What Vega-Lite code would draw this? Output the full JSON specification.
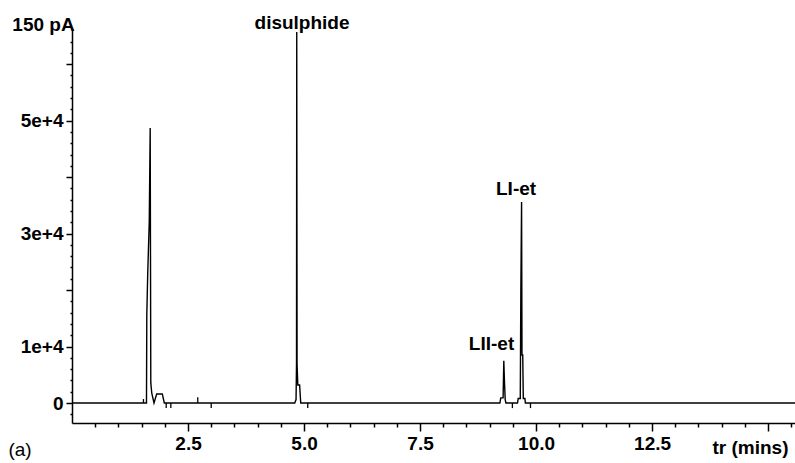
{
  "$schema": "https://vega.github.io/schema/vega-lite/v6.json",
  "autosize": {"type": "none"},
  "width": 723,
  "height": 395,
  "padding": {"left": 72, "top": 28, "right": 0, "bottom": 40},
  "background": "white",
  "config": {
    "view": {"stroke": null},
    "axis": {"grid": false, "domainColor": "black", "domainWidth": 1.5, "tickColor": "black", "tickWidth": 1.5,
             "labelFont": "Liberation Sans", "labelFontWeight": "bold", "labelFontSize": 19, "labelColor": "black",
             "titleFont": "Liberation Sans", "titleFontWeight": "bold", "titleFontSize": 19, "titleColor": "black",
             "labelOverlap": false, "labelFlush": false}
  },
  "datasets": {
    "trace": [
      {"t": 0, "v": 0}, {"t": 1.605, "v": 0}, {"t": 1.612, "v": 15600}, {"t": 1.632, "v": 23000},
      {"t": 1.665, "v": 32200}, {"t": 1.685, "v": 48700}, {"t": 1.698, "v": 3600}, {"t": 1.718, "v": 1800},
      {"t": 1.767, "v": 0}, {"t": 1.825, "v": 1600}, {"t": 1.946, "v": 1600}, {"t": 1.989, "v": 0},
      {"t": 4.8, "v": 0}, {"t": 4.828, "v": 600}, {"t": 4.838, "v": 6800}, {"t": 4.843, "v": 65700},
      {"t": 4.85, "v": 6800}, {"t": 4.866, "v": 3200}, {"t": 4.905, "v": 3200}, {"t": 4.929, "v": 0},
      {"t": 9.22, "v": 0}, {"t": 9.24, "v": 900}, {"t": 9.29, "v": 900}, {"t": 9.305, "v": 7500},
      {"t": 9.318, "v": 4100}, {"t": 9.335, "v": 600}, {"t": 9.35, "v": 0},
      {"t": 9.6, "v": 0}, {"t": 9.615, "v": 800}, {"t": 9.66, "v": 800}, {"t": 9.672, "v": 19500},
      {"t": 9.688, "v": 35600}, {"t": 9.697, "v": 8500}, {"t": 9.713, "v": 8500}, {"t": 9.725, "v": 800},
      {"t": 9.76, "v": 800}, {"t": 9.77, "v": 0}, {"t": 15.58, "v": 0}
    ],
    "markers": [
      {"t": 1.54, "lo": 0, "hi": 700}, {"t": 2.71, "lo": 0, "hi": 1000},
      {"t": 2.03, "lo": -900, "hi": 0}, {"t": 2.13, "lo": -900, "hi": 0}, {"t": 3.0, "lo": -900, "hi": 0},
      {"t": 5.08, "lo": -900, "hi": 0}, {"t": 9.49, "lo": -900, "hi": 0}, {"t": 9.88, "lo": -900, "hi": 0}
    ],
    "labels": [
      {"t": 4.957, "v": 66160, "label": "disulphide"},
      {"t": 9.569, "v": 36870, "label": "LI-et"},
      {"t": 9.041, "v": 9310, "label": "LII-et"}
    ],
    "panel": [{"t": -1.12, "v": -9415, "label": "(a)"}]
  },
  "resolve": {"axis": {"x": "independent", "y": "independent"}},
  "layer": [
    {
      "data": {"name": "trace"},
      "mark": {"type": "line", "color": "black", "strokeWidth": 1.4, "clip": true},
      "encoding": {
        "x": {"field": "t", "type": "quantitative",
              "scale": {"domain": [0, 15.58], "nice": false, "zero": false},
              "axis": {"orient": "bottom", "values": [2.5, 5, 7.5, 10, 12.5, 15],
                       "labelExpr": "datum.value < 15 ? format(datum.value, '.1f') : ''",
                       "tickSize": 8, "labelPadding": 3,
                       "title": "tr (mins)", "titleX": 678, "titleY": 30, "titleAlign": "center", "titleBaseline": "alphabetic"}},
        "y": {"field": "v", "type": "quantitative",
              "scale": {"domain": [-3540, 66400], "nice": false, "zero": false},
              "axis": {"orient": "left", "values": [0, 10000, 20000, 30000, 40000, 50000, 60000],
                       "labelExpr": "datum.value === 0 ? '0' : datum.value === 10000 ? '1e+4' : datum.value === 30000 ? '3e+4' : datum.value === 50000 ? '5e+4' : ''",
                       "tickSize": 6, "labelPadding": 3,
                       "title": "150 pA", "titleAngle": 0, "titleX": -29, "titleY": 2, "titleAlign": "center", "titleBaseline": "alphabetic"}}
      }
    },
    {
      "data": {"name": "markers"},
      "mark": {"type": "rule", "color": "black", "strokeWidth": 1.3},
      "encoding": {
        "x": {"field": "t", "type": "quantitative",
              "axis": {"orient": "bottom", "values": [0.5,1,1.5,2,3,3.5,4,4.5,5.5,6,6.5,7,8,8.5,9,9.5,10.5,11,11.5,12,13,13.5,14,14.5,15.5],
                       "labels": false, "domain": false, "tickSize": 4, "title": null}},
        "y": {"field": "lo", "type": "quantitative",
              "axis": {"orient": "left", "values": [-2000,2000,4000,6000,8000,12000,14000,16000,18000,22000,24000,26000,28000,32000,34000,36000,38000,42000,44000,46000,48000,52000,54000,56000,58000,62000,64000],
                       "labels": false, "domain": false, "tickSize": 2, "title": null}},
        "y2": {"field": "hi"}
      }
    },
    {
      "data": {"name": "labels"},
      "mark": {"type": "text", "font": "Liberation Sans", "fontWeight": "bold", "fontSize": 19, "align": "center", "baseline": "alphabetic", "color": "black"},
      "encoding": {
        "x": {"field": "t", "type": "quantitative", "axis": null},
        "y": {"field": "v", "type": "quantitative", "axis": null},
        "text": {"field": "label"}
      }
    },
    {
      "data": {"name": "panel"},
      "mark": {"type": "text", "font": "Liberation Sans", "fontWeight": "normal", "fontSize": 19, "align": "center", "baseline": "alphabetic", "color": "black"},
      "encoding": {
        "x": {"field": "t", "type": "quantitative", "axis": null},
        "y": {"field": "v", "type": "quantitative", "axis": null},
        "text": {"field": "label"}
      }
    }
  ]
}
